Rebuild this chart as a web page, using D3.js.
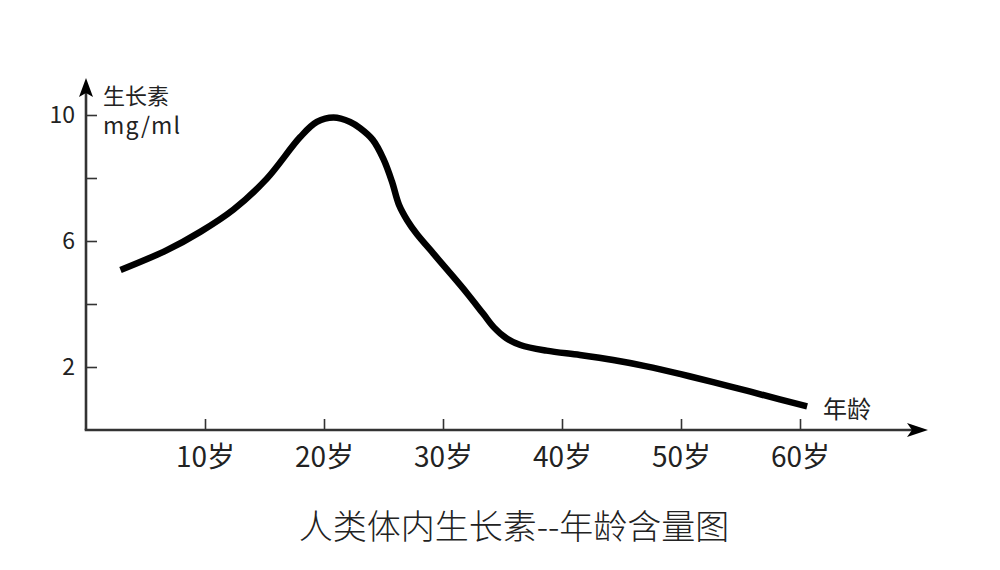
<!DOCTYPE html>
<html><head><meta charset="utf-8">
<script src="https://cdn.jsdelivr.net/npm/d3@7"></script>
<style>
html,body{margin:0;padding:0;background:#fff;}
text{font-family:"Noto Sans CJK SC","Noto Sans",sans-serif;}
</style></head>
<body><svg id="c" width="1000" height="570"></svg>
<script>
const ages   = [2.9, 6.8, 9.6, 12.4, 15.2, 18.0, 19.4, 20.8, 22.2, 23.0, 24.1, 25.0, 25.7, 26.3, 27.0, 27.8, 29.2, 30.6, 32.0, 33.4, 34.3, 35.3, 36.5, 38.7, 41.5, 44.3, 47.1, 49.9, 52.7, 55.6, 58.3, 60.6];
const values = [5.08, 5.71, 6.29, 7.00, 7.98, 9.30, 9.78, 9.92, 9.78, 9.59, 9.21, 8.60, 7.90, 7.15, 6.65, 6.22, 5.60, 4.98, 4.35, 3.68, 3.25, 2.92, 2.70, 2.52, 2.38, 2.22, 2.02, 1.78, 1.52, 1.24, 0.97, 0.75];
const xTicks = [10, 20, 30, 40, 50, 60];
const xTickLabels = ["10岁", "20岁", "30岁", "40岁", "50岁", "60岁"];
const yTicks = [2, 4, 6, 8, 10];
const yTickLabels = {2: "2", 6: "6", 10: "10"};
const yTitle = ["生长素", "mg/ml"];
const xTitle = "年龄";
const chartTitle = "人类体内生长素--年龄含量图";

const svg = d3.select("#c");
const x = d3.scaleLinear().domain([0, 60]).range([86, 800]);
const y = d3.scaleLinear().domain([0, 10]).range([430, 115]);
const axisColor = "#333";

// x axis
const gx = svg.append("g").attr("transform", `translate(0,${y(0)})`)
  .call(d3.axisBottom(x).tickValues(xTicks).tickSizeInner(-11).tickSizeOuter(0).tickPadding(10)
    .tickFormat((d, i) => xTickLabels[i]));
gx.select(".domain").remove();
gx.selectAll(".tick line").attr("stroke", axisColor).attr("stroke-width", 1.6);
gx.selectAll(".tick text").attr("fill", "#222").attr("font-size", 28).attr("dy", "0.95em");

// y axis
const gy = svg.append("g").attr("transform", `translate(${x(0)},0)`)
  .call(d3.axisLeft(y).tickValues(yTicks).tickSizeInner(-11).tickSizeOuter(0).tickPadding(11)
    .tickFormat(d => yTickLabels[d] || ""));
gy.select(".domain").remove();
gy.selectAll(".tick line").attr("stroke", axisColor).attr("stroke-width", 1.6);
gy.selectAll(".tick text").attr("fill", "#222").attr("font-size", 23);

// axis lines with arrows
const x0 = x(0), y0 = y(0);
const yTop = y(10) - 37;
const xEnd = x(60) + 128;
svg.append("line").attr("x1", x0).attr("y1", y0).attr("x2", x0).attr("y2", yTop + 10)
  .attr("stroke", axisColor).attr("stroke-width", 2.6);
svg.append("line").attr("x1", x0 - 1.3).attr("y1", y0).attr("x2", xEnd - 10).attr("y2", y0)
  .attr("stroke", axisColor).attr("stroke-width", 2.6);
svg.append("path").attr("d", `M${x0},${yTop} L${x0 - 7},${yTop + 19} L${x0},${yTop + 15} L${x0 + 7},${yTop + 19} Z`).attr("fill", "#000");
svg.append("path").attr("d", `M${xEnd},${y0} L${xEnd - 21},${y0 - 7} L${xEnd - 16},${y0} L${xEnd - 21},${y0 + 7} Z`).attr("fill", "#000");

// curve
const line = d3.line().x((d, i) => x(ages[i])).y(d => y(d)).curve(d3.curveCatmullRom.alpha(0.5));
svg.append("path").datum(values).attr("d", line)
  .attr("fill", "none").attr("stroke", "#000").attr("stroke-width", 6.5)
  .attr("stroke-linecap", "butt").attr("stroke-linejoin", "round");

// axis titles
svg.append("text").attr("x", 103).attr("y", 104).attr("font-size", 22).attr("fill", "#222").text(yTitle[0]);
svg.append("text").attr("x", 103).attr("y", 134).attr("font-size", 23).attr("fill", "#222").attr("letter-spacing", 1.2).text(yTitle[1]);
svg.append("text").attr("x", 823).attr("y", 418).attr("font-size", 24).attr("fill", "#222").text(xTitle);

// chart title
svg.append("text").attr("x", 514).attr("y", 539).attr("text-anchor", "middle").attr("font-size", 34)
  .attr("font-weight", 300).attr("fill", "#222").text(chartTitle);
</script></body></html>
